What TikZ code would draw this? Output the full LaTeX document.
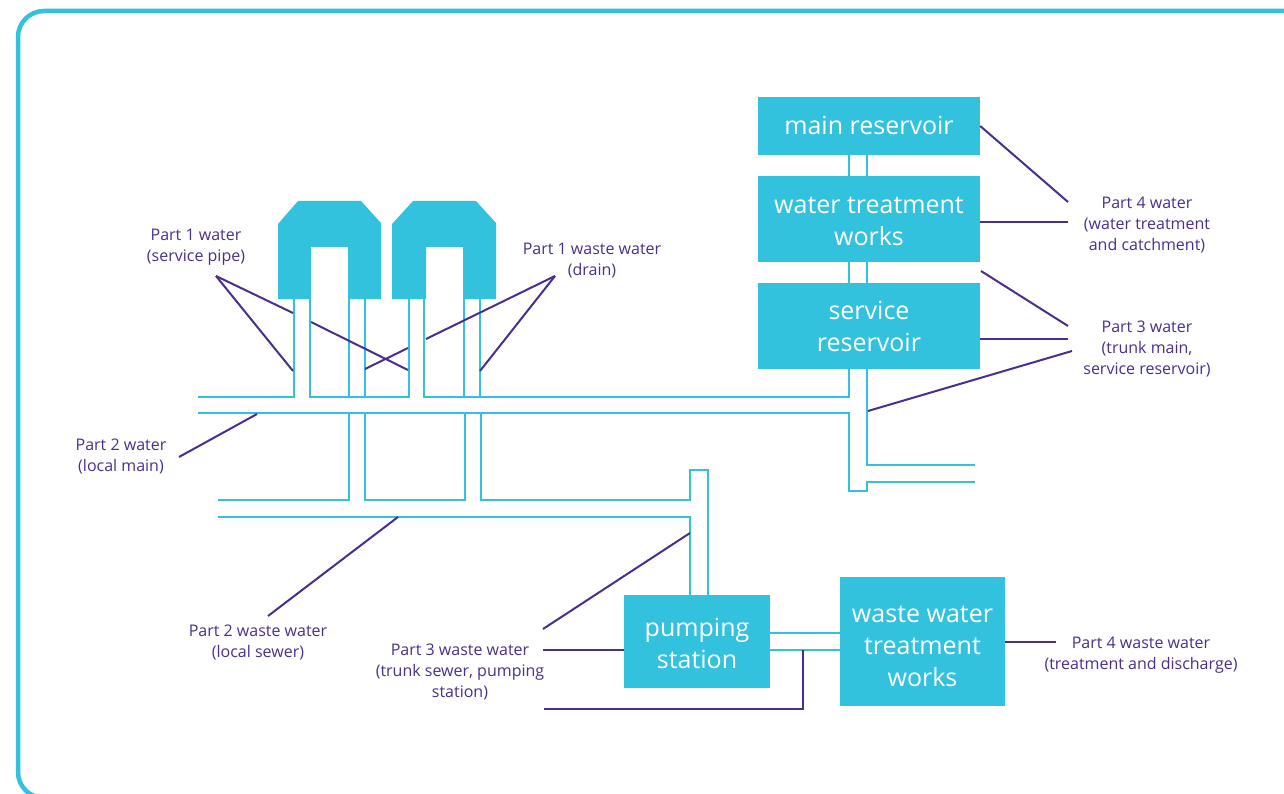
\documentclass[tikz,border=0pt]{standalone}
\usepackage{fontspec}
\setmainfont{Open Sans}
\definecolor{aqua}{HTML}{33C2DE}
\definecolor{indigo}{HTML}{4A2E8E}
\tikzset{
  plant/.style={fill=aqua, text=white, inner sep=0pt, align=center, font=\fontsize{25}{32}\selectfont},
  part/.style={text=indigo, align=center, inner sep=0pt, font=\fontsize{16}{21}\selectfont},
  pipe/.style={draw=aqua, line width=1.8pt},
  leader/.style={draw=indigo, line width=2pt},
  house/.style={fill=aqua},
}
\begin{document}
\begin{tikzpicture}[x=1pt, y=-1pt]
  \useasboundingbox (0,0) rectangle (1284,794);
  % frame
  \begin{scope}
    \clip (0,0) rectangle (1284,794);
    \draw[aqua, line width=4.5pt, rounded corners=26pt] (18,11) rectangle (1310,798);
  \end{scope}

  % water pipes between the plant
  \draw[pipe] (849,150) -- (849,180) (867,150) -- (867,180);
  \draw[pipe] (849,258) -- (849,288) (867,258) -- (867,288);
  % pipes
  \draw[pipe] (198,397) -- (294,397) -- (294,295);
  \draw[pipe] (310,295) -- (310,397) -- (409,397) -- (409,295);
  \draw[pipe] (349,295) -- (349,397) (365,295) -- (365,397);
  \draw[pipe] (424,295) -- (424,397) -- (849,397) -- (849,365);
  \draw[pipe] (464,295) -- (464,397) (480,295) -- (480,397);
  \draw[pipe] (198,413) -- (849,413) -- (849,491) -- (867,491) -- (867,482) -- (975,482);
  \draw[pipe] (867,365) -- (867,465) -- (975,465);
  \draw[pipe] (218,500) -- (349,500) -- (349,413);
  \draw[pipe] (365,413) -- (365,500) -- (465,500) -- (465,413);
  \draw[pipe] (481,413) -- (481,500) -- (690,500) -- (690,470) -- (708,470) -- (708,600);
  \draw[pipe] (218,517) -- (690,517) -- (690,600);
  \draw[pipe] (765,633) -- (845,633) (765,650) -- (845,650);

  % houses
  \fill[house] (278,224) -- (298,201) -- (361,201) -- (381,223) -- (381,299) -- (348,299) -- (348,247) -- (311,247) -- (311,299) -- (278,299) -- cycle;
  \fill[house] (392,224) -- (413,201) -- (476,201) -- (496,223) -- (496,299) -- (463,299) -- (463,247) -- (426,247) -- (426,299) -- (392,299) -- cycle;

  % plant
  \node[plant, minimum width=222pt, minimum height=58pt] (mainres) at (869,126) {\raisebox{1pt}{main reservoir}};
  \node[plant, minimum width=222pt, minimum height=86pt] (treatworks) at (869,219) {\rule{0pt}{22pt}water treatment\\works};
  \node[plant, minimum width=222pt, minimum height=86pt] (servres) at (869,326) {service\\reservoir};
  \node[plant, minimum width=146pt, minimum height=93pt] (pumpstn) at (697,641.5) {\rule{0pt}{22pt}pumping\\station};
  \node[plant, minimum width=165pt, minimum height=129pt] (wasteworks) at (922.5,641.5) {\rule{0pt}{26pt}waste water\\treatment\\works};

  % labels
  \node[part] (p1water) at (196,247) {Part 1 water\\(service pipe)};
  \node[part] (p1waste) at (592,261) {Part 1 waste water\\(drain)};
  \node[part] (p2water) at (121,456) {Part 2 water\\(local main)};
  \node[part] (p2waste) at (258,642) {Part 2 waste water\\(local sewer)};
  \node[part] (p3waste) at (460,672) {Part 3 waste water\\(trunk sewer, pumping\\station)};
  \node[part] (p3water) at (1147,349) {Part 3 water\\(trunk main,\\service reservoir)};
  \node[part] (p4water) at (1147,225) {Part 4 water\\(water treatment\\and catchment)};
  \node[part] (p4waste) at (1141,655) {Part 4 waste water\\(treatment and discharge)};

  % leader ends
  \coordinate (p1wa) at (216,276);
  \coordinate (p1wb) at (555,276);
  \coordinate (p2wa) at (179,457);
  \coordinate (p2wb) at (268,616);
  \coordinate (p3wa) at (543,629);
  \coordinate (p3wb) at (543,650);
  \coordinate (p3wc) at (544,709);
  \coordinate (p3ta) at (1068,326);
  \coordinate (p3tb) at (1068,339);
  \coordinate (p3tc) at (1072,351);
  \coordinate (p4wa) at (1068,202);
  \coordinate (p4wb) at (1068,222);
  \coordinate (p4wc) at (1056,642);

  % leaders
  \draw[leader] (p1wa) -- (293,371);
  \draw[leader] (p1wa) -- (293,313) (311,322) -- (408,370);
  \draw[leader] (p1wb) -- (480,371);
  \draw[leader] (p1wb) -- (426,339) (408,348) -- (365,369);
  \draw[leader] (p2wa) -- (257,414);
  \draw[leader] (p2wb) -- (398,517);
  \draw[leader] (p3wa) -- (690,533);
  \draw[leader] (p3wb) -- (pumpstn.west |- p3wb);
  \draw[leader] (p3wc) -- (803,709) -- (803,650);
  \draw[leader] (981,271) -- (p3ta);
  \draw[leader] (servres.east |- p3tb) -- (p3tb);
  \draw[leader] (868,411) -- (p3tc);
  \draw[leader] (mainres.east) -- (p4wa);
  \draw[leader] (treatworks.east |- p4wb) -- (p4wb);
  \draw[leader] (wasteworks.east |- p4wc) -- (p4wc);
\end{tikzpicture}
\end{document}
